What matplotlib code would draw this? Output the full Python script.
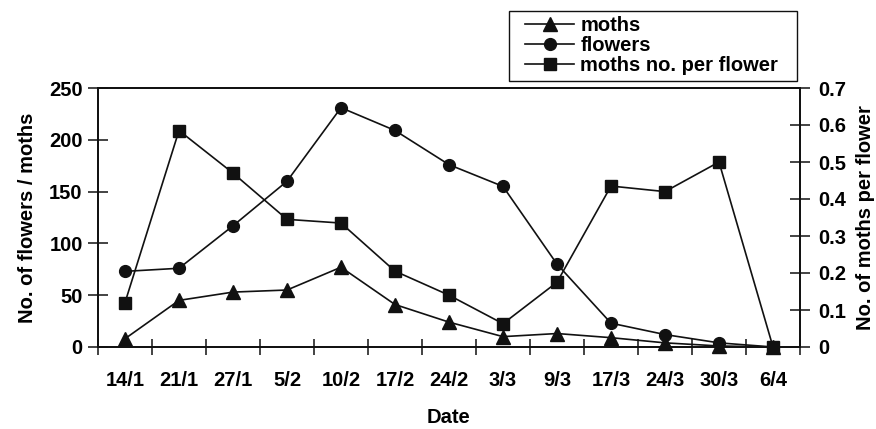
import matplotlib
matplotlib.use("Agg")
import matplotlib.pyplot as plt
from matplotlib.ticker import FixedLocator, MultipleLocator
from matplotlib.patches import Rectangle

dates = ["14/1", "21/1", "27/1", "5/2", "10/2", "17/2", "24/2", "3/3", "9/3", "17/3", "24/3", "30/3", "6/4"]
moths = [8, 45, 53, 55, 77, 41, 24, 10, 13, 9, 4, 1, 0]
flowers = [73, 76, 117, 160, 231, 209, 176, 155, 80, 23, 12, 4, 0]
per_flower = [0.12, 0.585, 0.47, 0.345, 0.335, 0.205, 0.14, 0.063, 0.175, 0.435, 0.42, 0.50, 0.0]

plt.rcParams['font.family'] = ['Liberation Sans', 'DejaVu Sans']
plt.rcParams['font.weight'] = 'bold'
FS = 14.5
W, H = 876, 429

fig = plt.figure(figsize=(W/100, H/100), dpi=100)
ax1 = fig.add_axes([98/W, 1-347/H, 702/W, 259/H])
ax2 = ax1.twinx()

x = list(range(len(dates)))
c = '#111111'
lw = 1.2
l1, = ax1.plot(x, moths, color=c, lw=lw, marker='^', ms=9.5, label='moths', clip_on=False, zorder=3)
l2, = ax1.plot(x, flowers, color=c, lw=lw, marker='o', ms=8.5, label='flowers', clip_on=False, zorder=3)
l3, = ax2.plot(x, per_flower, color=c, lw=lw, marker='s', ms=8.5, label='moths no. per flower', clip_on=False, zorder=3)

ax1.set_xlim(-0.5, len(dates) - 0.5)
ax1.set_ylim(0, 250)
ax2.set_ylim(0, 0.7)

ax1.set_xticks(x)
ax1.set_xticklabels(dates, fontsize=FS, fontweight='bold')
ax1.tick_params(axis='x', which='major', length=0, pad=17)
ax1.xaxis.set_minor_locator(FixedLocator([i - 0.5 for i in range(len(dates) + 1)]))
ax1.tick_params(axis='x', which='minor', direction='inout', length=12, width=1.1, color=c)

ax1.yaxis.set_major_locator(MultipleLocator(50))
ax1.tick_params(axis='y', which='major', direction='inout', length=14, width=1.1, color=c,
                labelsize=FS, pad=4)
ax2.set_yticks([0, 0.1, 0.2, 0.3, 0.4, 0.5, 0.6, 0.7])
ax2.set_yticklabels(["0", "0.1", "0.2", "0.3", "0.4", "0.5", "0.6", "0.7"])
ax2.tick_params(axis='y', which='major', direction='inout', length=14, width=1.1, color=c,
                labelsize=FS, pad=6)
for lab in ax1.get_yticklabels() + ax2.get_yticklabels():
    lab.set_fontweight('bold')

for ax in (ax1, ax2):
    for s in ax.spines.values():
        s.set_linewidth(1.3)
        s.set_color(c)

ax1.set_xlabel('Date', fontsize=FS, fontweight='bold', labelpad=13)
ax1.set_ylabel('No. of flowers / moths', fontsize=FS, fontweight='bold', labelpad=9)
ax2.set_ylabel('No. of moths per flower', fontsize=FS, fontweight='bold', labelpad=7)

leg = fig.legend(handles=[l1, l2, l3], loc='upper left', bbox_to_anchor=(525/W, 1-16/H),
                 bbox_transform=fig.transFigure, fontsize=FS, frameon=False,
                 handlelength=2.45, handletextpad=0.3, labelspacing=0.05, borderpad=0.0,
                 borderaxespad=0)
for t in leg.get_texts():
    t.set_fontweight('bold')
fig.patches.append(Rectangle((509/W, 1-81/H), (797-509)/W, (81-11)/H, transform=fig.transFigure,
                             fill=False, edgecolor=c, linewidth=1.0))

fig.savefig('out.png', dpi=100)
